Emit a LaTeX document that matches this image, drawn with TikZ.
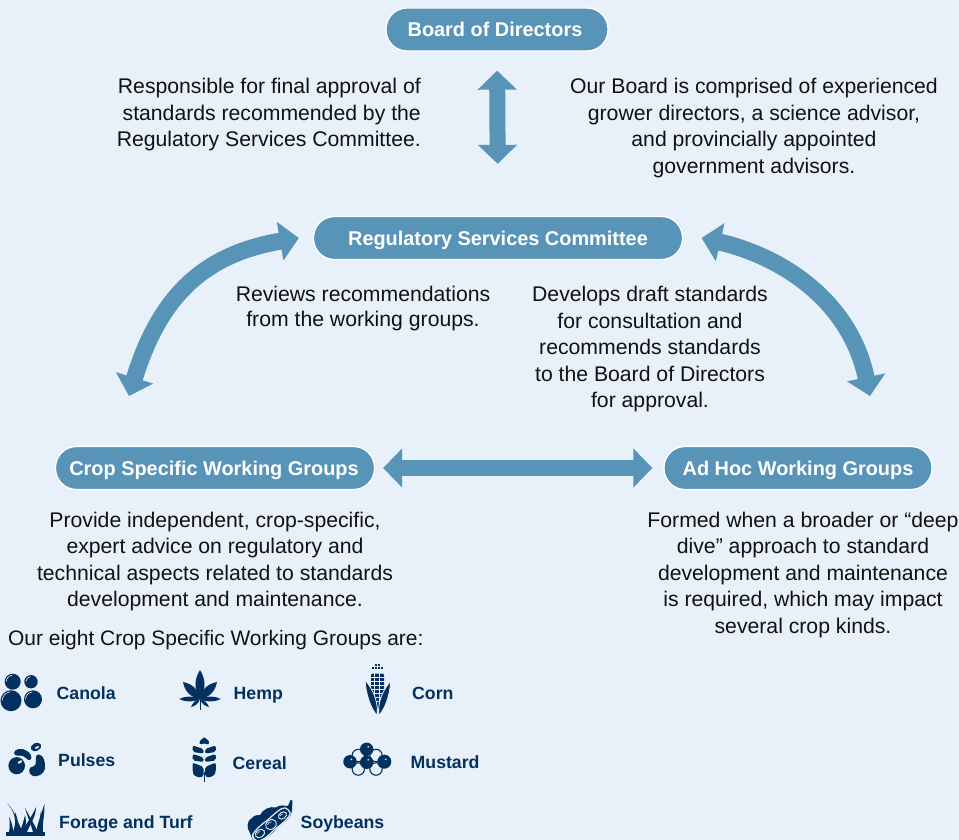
\documentclass[tikz,border=0pt]{standalone}
\usepackage{fontspec}
\setmainfont{Liberation Sans}
\usetikzlibrary{arrows.meta}
\definecolor{bgc}{HTML}{E8F1F9}
\definecolor{steel}{HTML}{5893B8}
\definecolor{navy}{HTML}{03315F}
\definecolor{ink}{HTML}{111111}
\tikzset{
  pill/.style={rounded corners=21pt,fill=steel,draw=white,line width=1.3pt,text=white,font=\fontsize{19.9}{24}\selectfont\bfseries,minimum height=43pt,inner sep=0pt,anchor=center,text height=14pt,text depth=0pt},
  body/.style={text=ink,font=\fontsize{21.2}{26.6}\selectfont,inner sep=0pt},
  lab/.style={text=navy,font=\fontsize{17.7}{20}\selectfont\bfseries,inner sep=0pt,anchor=base west},
  blockarrow/.style={draw=steel,line width=16pt,{Triangle[width=38pt,length=19pt]}-{Triangle[width=38pt,length=19pt]}},
  curvearrow/.style={blockarrow,line width=17pt},
  ic/.style={fill=navy,draw=none},
  hole/.style={fill=bgc,draw=none}
}
\begin{document}
\begin{tikzpicture}[x=1pt,y=-1pt]
\useasboundingbox (0,0) rectangle (959,840);
\fill[bgc] (0,0) rectangle (959,840);
\node[pill,minimum width=222pt] (board) at (497,29.5) {Board of Directors\kern4pt};
\node[pill,minimum width=369pt] (rsc) at (498,238) {Regulatory Services Committee};
\node[pill,minimum width=319pt] (crop) at (215,468) {Crop Specific Working Groups\kern2pt};
\node[pill,minimum width=268pt] (adhoc) at (798,468) {Ad Hoc Working Groups};

\draw[blockarrow,shorten <=19pt,shorten >=52pt] (board.south) -- (rsc.north);
\draw[blockarrow,shorten <=8pt,shorten >=11pt] (crop.east) -- (adhoc.west);
\coordinate (lbot) at (129,396);
\coordinate (rbot) at (870,396);
\draw[curvearrow] (rsc.west) ++(-14,0) coordinate (ltop) (ltop) .. controls +(-94,16) and +(31,-101) .. (lbot);
\draw[curvearrow] (rsc.east) ++(18.5,0) coordinate (rtop) (rtop) .. controls +(79,18) and +(-20,-96) .. (rbot);

\node[body,align=right,anchor=north east] (t1) at (421,78) {Responsible for final approval of\\standards recommended by the\\Regulatory Services Committee.};
\node[body,align=center,anchor=north] (t2) at (754,78) {Our Board is comprised of experienced\\grower directors, a science advisor,\\and provincially appointed\\government advisors.};
\node[body,align=center,anchor=north,font=\fontsize{21.2}{24.5}\selectfont] (t3) at (363,286) {Reviews recommendations\\from the working groups.};
\node[body,align=center,anchor=north] (t4) at (650,286) {Develops draft standards\\for consultation and\\recommends standards\\to the Board of Directors\\for approval.};
\node[body,align=center,anchor=north] (t5) at (215,511.5) {Provide independent, crop-specific,\\expert advice on regulatory and\\technical aspects related to standards\\development and maintenance.};
\node[body,align=center,anchor=north] (t6) at (803,511.5) {Formed when a broader or “deep\\dive” approach to standard\\development and maintenance\\is required, which may impact\\several crop kinds.};
\node[body,anchor=base west,font=\fontsize{20.95}{26}\selectfont] (t7) at (8,645) {Our eight Crop Specific Working Groups are:};

\node[lab] (l1) at (56.5,699) {Canola};
\node[lab] (l2) at (233.5,699) {Hemp};
\node[lab] (l3) at (412,699) {Corn};
\node[lab] (l4) at (58,766) {Pulses};
\node[lab] (l5) at (232.5,769) {Cereal};
\node[lab] (l6) at (410.5,768) {Mustard};
\node[lab] (l7) at (59,828) {Forage and Turf};
\node[lab] (l8) at (300.5,828) {Soybeans};

% canola
\foreach \x/\y/\r in {12.7/681.7/8,31/681.7/6.7,11/700.7/10.5,33/699.3/9}{
  \fill[ic] (\x,\y) circle (\r);
  \draw[bgc,line width=.6pt] (\x-\r+1.6,\y) arc (180:265:\r-1.6);}
% hemp
\foreach \a/\L/\w in {90/29/5.5,45/24/5,135/24/5,0/21/3,180/21/3,-42/12/2,-138/12/2}{
  \begin{scope}[shift={(200,699)},rotate=\a]
  \fill[ic] (0,0) .. controls ({.35*\L},{1.2*\w}) and ({.7*\L},\w) .. (\L,0) .. controls ({.7*\L},-\w) and ({.35*\L},{-1.2*\w}) .. (0,0) -- cycle;
  \end{scope}}
\fill[ic] (199.5,699) rectangle (200.5,710);
% corn
\fill[ic] (371,675) -- (372,673.5) -- (383,673.5) -- (384,675) -- (384,696) -- (379,708) -- (376,708) -- (371,696) -- cycle;
\foreach \x in {374.5,379.5} \draw[bgc,line width=.7pt] (\x,673) -- (\x,705);
\foreach \y in {677,681,685,689,693,697,701} \draw[bgc,line width=.7pt] (370,\y) -- (385,\y);
\fill[ic,draw=bgc,line width=.8pt] (365,680) .. controls (366,695) and (371,709) .. (377.2,715.5) -- (377.2,707) .. controls (376,697) and (372,688) .. (365,680) -- cycle;
\fill[ic,draw=bgc,line width=.8pt] (390.7,681) .. controls (390,695) and (385,709) .. (378.8,715.5) -- (378.8,707) .. controls (380,697) and (384,689) .. (390.7,681) -- cycle;
\foreach \x/\y in {376/664.5,379/664.5,372.5/667.5,375.5/667.5,378.5/667.5,381.5/667.5} \fill[ic] (\x-1,\y-1) rectangle +(2,2);
% pulses
\fill[ic] (16.7,765.7) ellipse (8.3 and 8.6);
\fill[hole,rotate around={30:(20,762)}] (20,762) ellipse (2.6 and 1.2);
\fill[ic] (14,753) .. controls (14,749) and (22,747) .. (27,751) .. controls (31,753) and (33,758) .. (30,760) .. controls (27,761) and (25,755) .. (20,755.5) .. controls (16,756) and (14,755) .. (14,753) -- cycle;
\fill[ic] (39,754.5) .. controls (44,755) and (45.5,763) .. (45,768) .. controls (44,775) and (37,777) .. (33,776) .. controls (29,774) and (28,770) .. (30.5,767.5) .. controls (33,766) and (36,767) .. (36,761) .. controls (35.5,757) and (36,754.5) .. (39,754.5) -- cycle;
\fill[ic,rotate around={25:(36,747)}] (36,747) ellipse (5.5 and 4);
\fill[hole,rotate around={25:(37,747.5)}] (37,747.5) ellipse (2.2 and 1);
% cereal
\fill[ic,rounded corners=1pt] (204.3,737) -- (209.3,741.5) -- (208.5,744.5) -- (204.3,743.5) -- (200,744.5) -- (199.3,741.5) -- cycle;
\foreach \y in {745.5,754} {
  \fill[ic,rounded corners=2pt] (203.6,\y+3.5) -- (192.7,\y) -- (192.7,\y+6.5) -- (203.6,\y+8) -- cycle;
  \fill[ic,rounded corners=2pt] (205,\y+3.5) -- (215.8,\y) -- (215.8,\y+6.5) -- (205,\y+8) -- cycle; }
\fill[ic,rounded corners=2pt] (203.6,767) -- (192.7,762.5) -- (192.7,772) .. controls (194,776) and (199,778) .. (203.6,776.5) -- cycle;
\fill[ic,rounded corners=2pt] (205,767) -- (215.8,762.5) -- (215.8,772) .. controls (214,776) and (209,778) .. (205,776.5) -- cycle;
\fill[ic] (203.7,772) rectangle (204.9,781.7);
% mustard
\foreach \x/\y in {358.3/755.5,376/755.5,358.3/769,376/769} \draw[navy,fill=bgc,line width=1.1pt] (\x,\y) circle (6.2);
\foreach \x/\y/\r in {366.7/749.3/6.7,350/761.7/6.7,366.7/762.3/6.7,384.3/761.7/7} {
  \fill[ic] (\x,\y) circle (\r); \fill[hole] (\x+1.5,\y-2.5) circle (.9);}
% grass
\fill[ic] (6,832) rectangle (45,835.7);
\foreach \b/\c/\d/\e/\f/\g/\h/\i/\j in {
  15/16/816/14/812/7.3/803/23/15,
  9/10/826/10/822/9/817/14/12,
  13/16/824/15.5/818/15/812/20/18,
  33/30/822/27/815/25/808/38/34,
  22/27/822/33/815/36/807/27/30,
  36/38/822/42/812/44.3/804/43/42,
  20/22/826/24/820/25/815/25/25,
  38/39/824/40/818/41/811/42/42}{
  \fill[ic] (\b,832) .. controls (\c,\d) and (\e,\f) .. (\g,\h) .. controls (\e+3,\f+2) and (\j,\d+2) .. (\i,832) -- cycle;}
% soybean
\begin{scope}
\clip (240,795) rectangle (300,840);
\fill[ic] (250,833) .. controls (246,828) and (247,820) .. (252,818) .. controls (254,815) and (258,815) .. (260,815) .. controls (263,809) and (270,806) .. (276,807.5) .. controls (280,804) and (285,806) .. (288,806) -- (290.5,800) -- (292.5,800.5) -- (292,810) .. controls (292,817) and (285,822) .. (278,827) .. controls (272,835) and (262,842) .. (253,841) -- cycle;
\draw[bgc,line width=1.2pt,rounded corners=4pt] (253,840) .. controls (252,833) and (262,824) .. (268,820) .. controls (274,814) and (282,807) .. (289,809) .. controls (291,816) and (282,824) .. (276,828) .. controls (270,834) and (262,842) .. (253,840) -- cycle;
\foreach \x/\y/\r in {260/833.5/4.2,271/824.5/5,282.5/815.5/3.6} {
  \draw[bgc,fill=navy,line width=.9pt,rotate around={35:(\x,\y)}] (\x,\y) ellipse (\r+.8 and \r-.4);
  \draw[bgc,line width=.6pt] (\x-\r+1.5,\y+.3) arc (190:280:\r-1.5);}
\end{scope}
\end{tikzpicture}
\end{document}
